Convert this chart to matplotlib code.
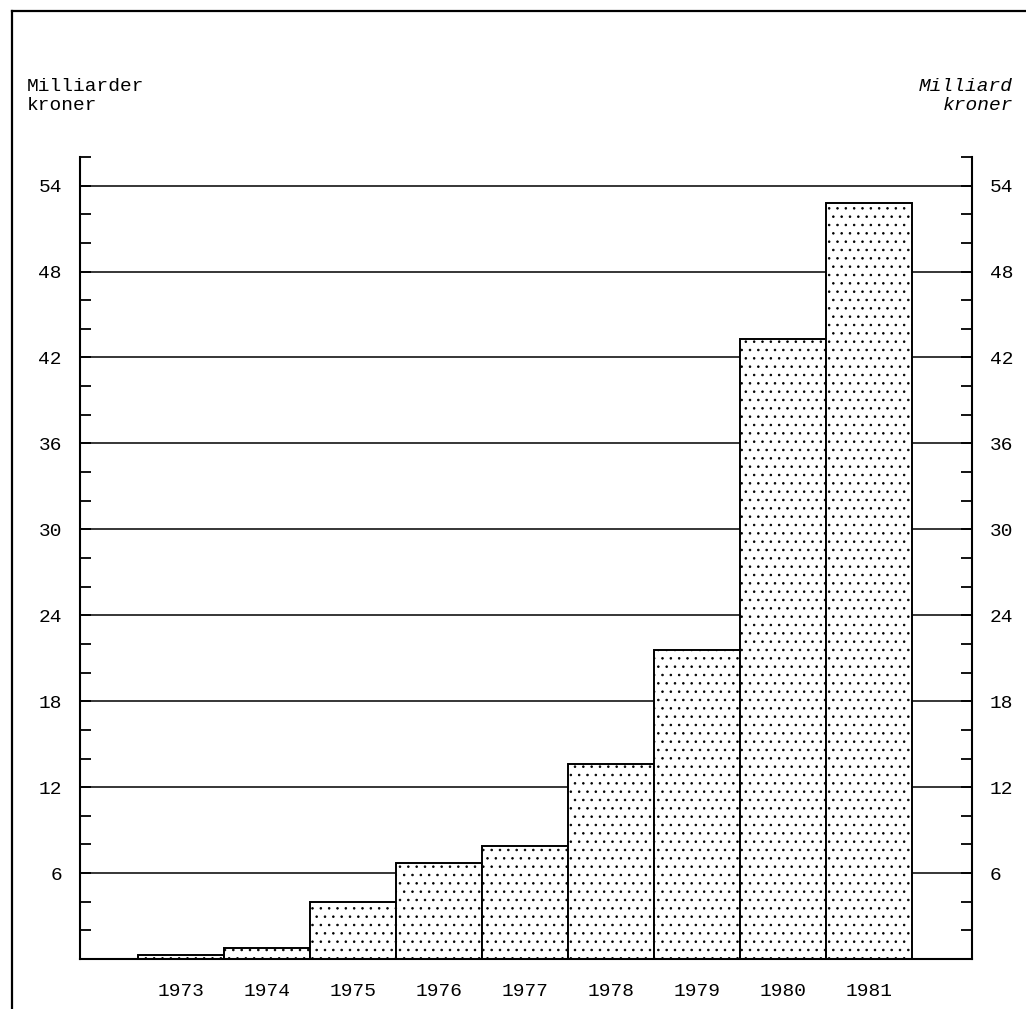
import matplotlib
matplotlib.use("Agg")
import matplotlib.pyplot as plt
from matplotlib.lines import Line2D
from matplotlib.ticker import MultipleLocator

years = [1973, 1974, 1975, 1976, 1977, 1978, 1979, 1980, 1981]
values = [0.3, 0.75, 3.95, 6.7, 7.9, 13.6, 21.6, 43.3, 52.8]
grid_levels = [6, 12, 18, 24, 30, 36, 42, 48, 54]

plt.rcParams['font.family'] = ['Liberation Mono', 'DejaVu Sans Mono']
plt.rcParams['hatch.linewidth'] = 0.6
plt.rcParams['hatch.color'] = 'black'

W, H = 1026, 1009
fig = plt.figure(figsize=(W / 100, H / 100), dpi=100)
ax = fig.add_axes([80 / W, 50 / H, 892 / W, 802 / H])

for g in grid_levels:
    ax.axhline(g, color='black', lw=1.1, zorder=0)

ax.bar(years, values, width=1.0, facecolor='white', edgecolor='black',
       linewidth=1.4, hatch='..', zorder=2)

ax.set_xlim(1971.83, 1982.2)
ax.set_ylim(0, 56)

ax.spines['top'].set_visible(False)
for s in ('left', 'right', 'bottom'):
    ax.spines[s].set_linewidth(1.5)
    ax.spines[s].set_zorder(3)

ax.yaxis.set_major_locator(MultipleLocator(6))
ax.yaxis.set_minor_locator(MultipleLocator(2))
ax.set_yticks(grid_levels)
ax.tick_params(axis='y', which='both', direction='in', left=True, right=True,
               labelleft=True, labelright=True, length=8, width=1.3,
               pad=13, labelsize=14)
ax.set_xticks(years)
ax.tick_params(axis='x', length=0, pad=17, labelsize=14)

fig.text(27 / W, 1 - 78 / H, "Milliarder\nkroner", ha='left', va='top',
         fontsize=14, linespacing=1.15)
fig.text(1013 / W, 1 - 78 / H, "Milliard\nkroner", ha='right', va='top',
         fontsize=14, style='italic', linespacing=1.15)

fig.add_artist(Line2D([12 / W, 12 / W], [0, 1 - 11 / H], transform=fig.transFigure,
                      color='black', lw=1.6))
fig.add_artist(Line2D([12 / W, 1], [1 - 11 / H, 1 - 11 / H], transform=fig.transFigure,
                      color='black', lw=1.6))

fig.savefig("out.png", dpi=100)
